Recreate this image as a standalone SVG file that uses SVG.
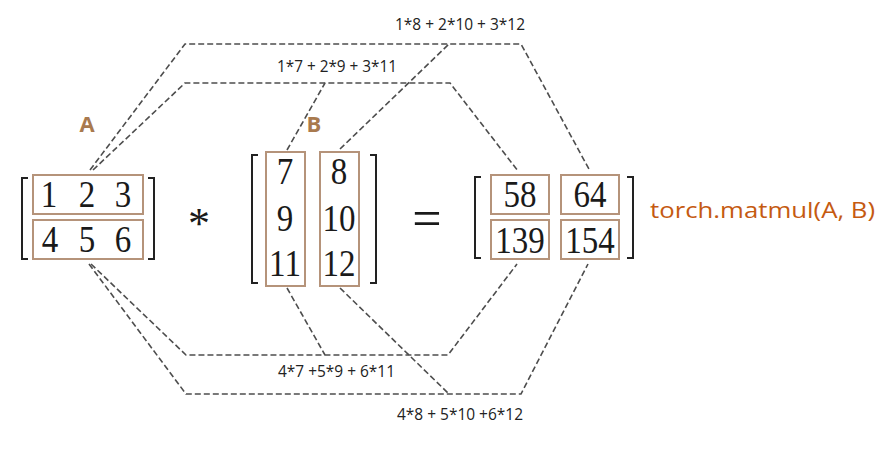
<svg xmlns="http://www.w3.org/2000/svg" width="892" height="453" viewBox="0 0 892 453">
<style>
.bg{fill:#ffffff}
.cell{fill:none;stroke:#B5937A;stroke-width:2}
.br{fill:none;stroke:#222222;stroke-width:2}
.d{font-family:"Liberation Serif","Times New Roman",serif;font-size:33px;fill:#1a1a1a;text-anchor:middle}
.op{font-family:"Liberation Serif","Times New Roman",serif;fill:#1a1a1a;text-anchor:middle}
.dash{fill:none;stroke:#4d4d4d;stroke-width:1.6;stroke-dasharray:6 3}
.lbl{font-family:"Open Sans","Noto Sans","Liberation Sans",sans-serif;font-size:16px;fill:#222222}
.name{font-family:"Open Sans","Noto Sans","Liberation Sans",sans-serif;font-size:22px;font-weight:bold;fill:#A97A4E;text-anchor:middle}
.fn{font-family:"Open Sans","Noto Sans","Liberation Sans",sans-serif;font-size:22px;fill:#C55A11}
</style>
<rect class="bg" x="0" y="0" width="892" height="453"/>

<g id="connectors">
  <path class="dash" d="M90,170 L185,44 L521,44 L590,171"/>
  <path class="dash" d="M340,149 L449,44"/>
  <path class="dash" d="M93,170 L185,83 L450,83 L518,171"/>
  <path class="dash" d="M287,150 L325,83"/>
  <path class="dash" d="M91,264 L186,355 L448,355 L517,264"/>
  <path class="dash" d="M287,288 L325,355"/>
  <path class="dash" d="M89,264 L186,394 L521,394 L588,264"/>
  <path class="dash" d="M340,288 L449,394"/>
</g>

<g id="labels">
  <text class="lbl" x="395" y="30" textLength="130" lengthAdjust="spacingAndGlyphs">1*8 + 2*10 + 3*12</text>
  <text class="lbl" x="277" y="72" textLength="120" lengthAdjust="spacingAndGlyphs">1*7 + 2*9 + 3*11</text>
  <text class="lbl" x="278" y="377" textLength="117" lengthAdjust="spacingAndGlyphs">4*7 +5*9 + 6*11</text>
  <text class="lbl" x="397" y="420" textLength="126" lengthAdjust="spacingAndGlyphs">4*8 + 5*10 +6*12</text>
</g>

<g id="matrixA">
  <text class="name" x="87" y="132">A</text>
  <path class="br" d="M28,178 H22 V259 H28"/>
  <path class="br" d="M148,178 H154 V259 H148"/>
  <rect class="cell" x="33" y="175" width="110" height="39"/>
  <rect class="cell" x="33" y="220" width="110" height="39"/>
  <text class="d" transform="matrix(1,0,0,1.17,49,207)">1</text>
  <text class="d" transform="matrix(1,0,0,1.17,87,207)">2</text>
  <text class="d" transform="matrix(1,0,0,1.17,123,207)">3</text>
  <text class="d" transform="matrix(1,0,0,1.17,50,252)">4</text>
  <text class="d" transform="matrix(1,0,0,1.17,87,252)">5</text>
  <text class="d" transform="matrix(1,0,0,1.17,123,252)">6</text>
</g>

<g id="times">
  <text class="op" x="199" y="238" font-size="44">*</text>
</g>

<g id="matrixB">
  <text class="name" x="314" y="132">B</text>
  <path class="br" d="M258,155 H252 V283 H258"/>
  <path class="br" d="M370,155 H376 V283 H370"/>
  <rect class="cell" x="266" y="152" width="39" height="134"/>
  <rect class="cell" x="320" y="152" width="39" height="134"/>
  <text class="d" transform="matrix(1,0,0,1.17,285,184)">7</text>
  <text class="d" transform="matrix(1,0,0,1.17,285,231)">9</text>
  <text class="d" transform="matrix(1,0,0,1.17,285,276)">11</text>
  <text class="d" transform="matrix(1,0,0,1.17,339,184)">8</text>
  <text class="d" transform="matrix(1,0,0,1.17,339,231)">10</text>
  <text class="d" transform="matrix(1,0,0,1.17,339,276)">12</text>
</g>

<g id="equals">
  <text class="op" x="427" y="236" font-size="52">=</text>
</g>

<g id="result">
  <path class="br" d="M481,177 H475 V258 H481"/>
  <path class="br" d="M627,177 H633 V258 H627"/>
  <rect class="cell" x="491" y="175" width="58" height="39"/>
  <rect class="cell" x="561" y="175" width="58" height="39"/>
  <rect class="cell" x="491" y="220" width="58" height="39"/>
  <rect class="cell" x="561" y="220" width="58" height="39"/>
  <text class="d" transform="matrix(1,0,0,1.17,520,207)">58</text>
  <text class="d" transform="matrix(1,0,0,1.17,590,207)">64</text>
  <text class="d" transform="matrix(1,0,0,1.17,520,253)">139</text>
  <text class="d" transform="matrix(1,0,0,1.17,590,253)">154</text>
  <text class="fn" x="650" y="218" textLength="225" lengthAdjust="spacingAndGlyphs">torch.matmul(A, B)</text>
</g>
</svg>
